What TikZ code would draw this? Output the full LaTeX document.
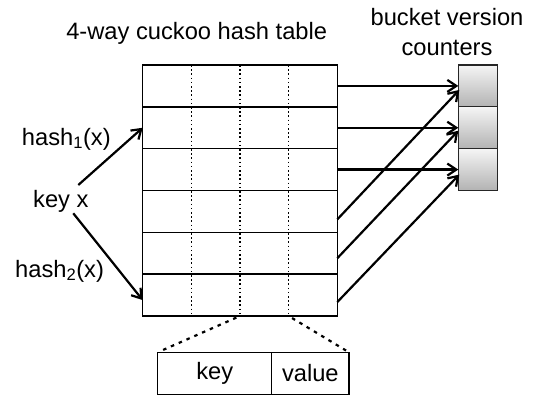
\documentclass[tikz,border=0pt]{standalone}
\usepackage{fontspec}
\setmainfont{Liberation Sans}
\usetikzlibrary{arrows.meta,calc}
\begin{document}
\begin{tikzpicture}[x=1pt,y=-1pt,
  every node/.style={font=\fontsize{23.7}{30}\selectfont},
  rowbox/.style={draw, line width=1.4pt, minimum width=194.6pt, minimum height=41.83pt, inner sep=0pt, outer sep=0pt},
  ctr/.style={draw=black!85, line width=1.2pt, top color=black!4, bottom color=black!30, minimum width=39pt, minimum height=41.83pt, inner sep=0pt, outer sep=0pt},
  arr/.style={line width=2.2pt, -{Straight Barb[length=9pt,width=12pt]}},
  slot/.style={line width=1.4pt, dash pattern=on 1.6pt off 2.6pt},
  zoomline/.style={line width=2.2pt, dash pattern=on 3.5pt off 5pt},
  cell/.style={draw, line width=1.4pt, minimum height=42pt, inner sep=0pt, outer sep=0pt}
]
\useasboundingbox (0,0) rectangle (535,399);

% titles
\node[anchor=base] (title) at (196.7,39) {4-way cuckoo hash table};
\node[anchor=base] (bv1) at (447,25) {bucket version};
\node[anchor=base] (bv2) at (447,55) {counters};

% table rows
\node[rowbox] (r1) at (240,85.92) {};
\node[rowbox] (r2) at (240,127.75) {};
\node[rowbox] (r3) at (240,169.58) {};
\node[rowbox] (r4) at (240,211.41) {};
\node[rowbox] (r5) at (240,253.24) {};
\node[rowbox] (r6) at (240,295.08) {};

% slot dividers
\coordinate (d1t) at (191.35,65); \coordinate (d1b) at (191.35,316);
\coordinate (d2t) at (240,65);    \coordinate (d2b) at (240,316);
\coordinate (d3t) at (288.65,65); \coordinate (d3b) at (288.65,316);
\draw[slot] (d1t) -- (d1b);
\draw[slot] (d2t) -- (d2b);
\draw[slot] (d3t) -- (d3b);

% counters
\node[ctr] (c1) at (477.8,85.92) {};
\node[ctr] (c2) at (477.8,127.75) {};
\node[ctr] (c3) at (477.8,169.58) {};

% arrows to counters
\draw[arr] (r1.east) -- (c1.west);
\draw[arr] (r2.east) -- (c2.west);
\draw[arr] (r3.east) -- (c3.west);
\draw[arr] ($(r4.east)+(0,8)$) -- ($(c1.west)+(1,4)$);
\draw[arr] ($(r5.east)+(0,5)$) -- ($(c2.west)+(0,3)$);
\draw[arr] ($(r6.east)+(0,7)$) -- ($(c3.west)+(1,5)$);

% key and hashes
\node[anchor=base west, inner sep=0pt] (key) at (33,207) {key x};
\node[anchor=base west, inner sep=0pt] (h1) at (21.7,145) {hash\textsubscript{1}(x)};
\node[anchor=base west, inner sep=0pt] (h2) at (15,277) {hash\textsubscript{2}(x)};
\coordinate (ks1) at (78.3,185);
\coordinate (ks2) at (73.3,213.3);
\draw[arr] (ks1) -- (r2.west);
\draw[arr] (ks2) -- ($(r6.west)+(0,5)$);

% key/value entry
\node[cell, minimum width=114pt] (kk) at (214.7,373.3) {key};
\node[cell, minimum width=77.3pt] (kv) at (310.35,373.3) {value};
\draw[zoomline, shorten <=4pt, shorten >=4pt] (d2b) -- (kk.north west);
\draw[zoomline, shorten <=4pt, shorten >=1pt] (d3b) -- (kv.north east);
\end{tikzpicture}
\end{document}
